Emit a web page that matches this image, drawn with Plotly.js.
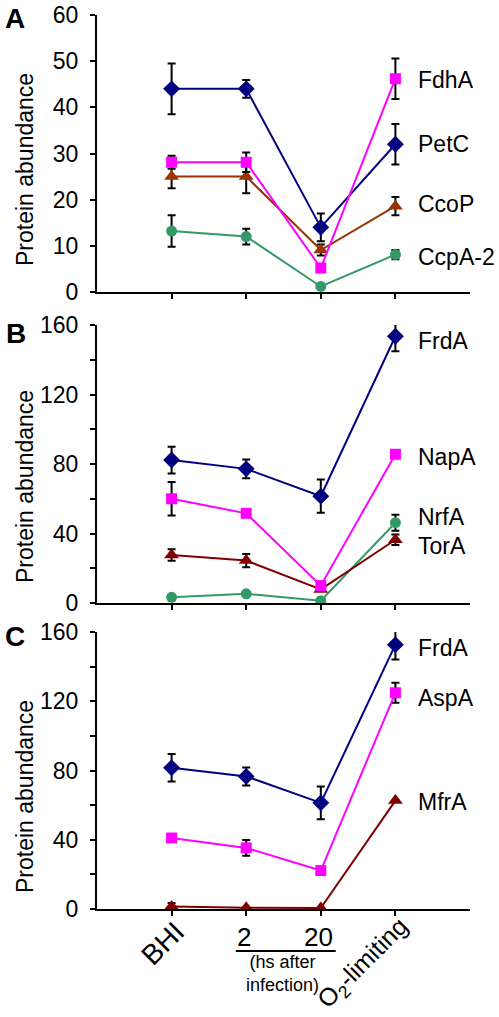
<!DOCTYPE html>
<html>
<head>
<meta charset="utf-8">
<script src="https://cdn.plot.ly/plotly-3.0.1.min.js"></script>
<style>html,body{margin:0;padding:0;background:#fff;}#chart{width:499px;height:1017px;}</style>
</head>
<body>
<div id="chart"></div>
<script>
// ---- categories / tick labels ----
const categories = ['BHI', '2', '20', 'O<sub>2</sub>-limiting'];
const xIdx = [0, 1, 2, 3];
const ticksA = [0, 10, 20, 30, 40, 50, 60];
const ticksBC = [0, 20, 40, 60, 80, 100, 120, 140, 160];
const tickTextBC = ['0', '', '40', '', '80', '', '120', '', '160'];
const subNote = '(hs after<br>infection)';

// ---- panel A ----
const A_PetC = [44, 44, 14, 32];
const A_PetC_err = [5.5, 1.9, 3, 4.4];
const A_FdhA = [28.1, 28.1, 5.2, 46.2];
const A_FdhA_err = [1.4, 2.1, 0, 4.4];
const A_CcoP = [25, 25, 9.1, 18.6];
const A_CcoP_err = [2.5, 3.6, 1.2, 2];
const A_CcpA2 = [13.2, 12, 1.2, 8.1];
const A_CcpA2_err = [3.4, 1.7, 0, 1];

// ---- panel B ----
const B_FrdA = [82.3, 77.2, 61.5, 153.5];
const B_FrdA_err = [7.7, 5.4, 9.6, 8.6];
const B_NapA = [60, 51.6, 10, 85.6];
const B_NapA_err = [9.6, 1, 0, 1];
const B_TorA = [27.6, 24.4, 7.8, 36.4];
const B_TorA_err = [3.3, 3.8, 0, 3];
const B_NrfA = [3.3, 5.3, 1.3, 46.2];
const B_NrfA_err = [0, 0, 0, 4.6];

// ---- panel C ----
const C_FrdA = [81.6, 76.6, 61.3, 152.7];
const C_FrdA_err = [8, 5.2, 9.5, 8.6];
const C_AspA = [41, 35.3, 22.2, 124.9];
const C_AspA_err = [1, 4.5, 0, 5.8];
const C_MfrA = [1.5, 0.7, 0.6, 62.6];
const C_MfrA_err = [2, 0, 0, 0];

// ---- colours ----
const NAVY = '#000080', MAG = '#FF00FF', BROWN = '#993300', DRED = '#800000', GREEN = '#339966';

function tr(y, err, color, symbol, size, xa, ya) {
  return {
    x: xIdx, y: y, xaxis: xa, yaxis: ya, type: 'scatter', mode: 'lines+markers',
    line: {color: color, width: 2},
    marker: {color: color, symbol: symbol, size: size},
    error_y: {type: 'data', array: err, visible: true, color: '#000', thickness: 2, width: 4},
    showlegend: false, hoverinfo: 'skip'
  };
}

const data = [
  tr(A_PetC, A_PetC_err, NAVY, 'diamond', 13, 'x', 'y'),
  tr(A_CcoP, A_CcoP_err, BROWN, 'triangle-up', 13, 'x', 'y'),
  tr(A_FdhA, A_FdhA_err, MAG, 'square', 11, 'x', 'y'),
  tr(A_CcpA2, A_CcpA2_err, GREEN, 'circle', 11, 'x', 'y'),

  tr(B_FrdA, B_FrdA_err, NAVY, 'diamond', 13, 'x2', 'y2'),
  tr(B_NrfA, B_NrfA_err, GREEN, 'circle', 11, 'x2', 'y2'),
  tr(B_TorA, B_TorA_err, DRED, 'triangle-up', 13, 'x2', 'y2'),
  tr(B_NapA, B_NapA_err, MAG, 'square', 11, 'x2', 'y2'),

  tr(C_FrdA, C_FrdA_err, NAVY, 'diamond', 13, 'x3', 'y3'),
  tr(C_AspA, C_AspA_err, MAG, 'square', 11, 'x3', 'y3'),
  tr(C_MfrA, C_MfrA_err, DRED, 'triangle-up', 13, 'x3', 'y3')
];

const FONT = 'Liberation Sans, Arial, sans-serif';
const W = 499, H = 1017;
const xDom = [97 / W, 470 / W];
function yDom(topPx, botPx) { return [1 - botPx / H, 1 - topPx / H]; }

function xAxis(anchor) {
  return {
    domain: xDom, range: [-1, 4], anchor: anchor, showgrid: false, zeroline: false,
    showline: true, linecolor: '#000', linewidth: 2,
    ticks: 'outside', ticklen: 5, tickwidth: 2, tickcolor: '#000',
    tickmode: 'array', tickvals: xIdx, showticklabels: false, fixedrange: true
  };
}
function yAxis(anchor, dom, range, vals, text) {
  return {
    domain: dom, range: range, anchor: anchor, showgrid: false, zeroline: false,
    showline: true, linecolor: '#000', linewidth: 2,
    ticks: 'outside', ticklen: 5, tickwidth: 2, tickcolor: '#000',
    tickmode: 'array', tickvals: vals, ticktext: text, ticklabelstandoff: 7,
    tickfont: {family: FONT, size: 23, color: '#000'}, fixedrange: true
  };
}

function lab(text, xa, ya, y) {
  return {text: text, xref: xa, yref: ya, x: 3.28, y: y, xanchor: 'left', yanchor: 'middle',
    showarrow: false, font: {family: FONT, size: 23, color: '#000'}};
}
function ytitle(yPx) {
  return {text: 'Protein abundance', xref: 'paper', yref: 'paper', x: 25 / W, y: 1 - yPx / H,
    xanchor: 'center', yanchor: 'middle', textangle: -90, showarrow: false,
    font: {family: FONT, size: 23, color: '#000'}};
}
function letter(t, xPx, yPx) {
  return {text: '<b>' + t + '</b>', xref: 'paper', yref: 'paper', x: xPx / W, y: 1 - yPx / H,
    xanchor: 'center', yanchor: 'middle', showarrow: false,
    font: {family: FONT, size: 28, color: '#000'}};
}
function xlab(i, xOff, yPx, angle, size) {
  return {text: categories[i], xref: 'x3', yref: 'paper', x: xIdx[i] + xOff, y: 1 - yPx / H,
    xanchor: 'center', yanchor: 'middle', textangle: angle, showarrow: false,
    font: {family: FONT, size: size, color: '#000'}};
}

const annotations = [
  letter('A', 15, 18), letter('B', 16, 333), letter('C', 15, 636),
  ytitle(170), ytitle(487), ytitle(797),
  lab('FdhA', 'x', 'y', 46), lab('PetC', 'x', 'y', 32), lab('CcoP', 'x', 'y', 19), lab('CcpA-2', 'x', 'y', 7.6),
  lab('FrdA', 'x2', 'y2', 151), lab('NapA', 'x2', 'y2', 84), lab('NrfA', 'x2', 'y2', 49.5), lab('TorA', 'x2', 'y2', 33),
  lab('FrdA', 'x3', 'y3', 151), lab('AspA', 'x3', 'y3', 122), lab('MfrA', 'x3', 'y3', 61.6),
  xlab(0, -0.12, 943, -45, 28),
  xlab(3, -0.43, 964, -45, 25),
  xlab(1, -0.03, 937, 0, 26),
  xlab(2, -0.03, 937, 0, 26),
  {text: subNote, xref: 'x3', yref: 'paper', x: 1.49, y: 1 - 973 / H, xanchor: 'center', yanchor: 'middle',
    showarrow: false, font: {family: FONT, size: 18, color: '#000'}}
];

const layout = {
  width: W, height: H, margin: {l: 0, r: 0, t: 0, b: 0},
  paper_bgcolor: '#fff', plot_bgcolor: '#fff', showlegend: false,
  xaxis: xAxis('y'), yaxis: yAxis('x', yDom(15, 292), [0, 60], ticksA, ticksA.map(String)),
  xaxis2: xAxis('y2'), yaxis2: yAxis('x2', yDom(325, 603), [0, 160], ticksBC, tickTextBC),
  xaxis3: xAxis('y3'), yaxis3: yAxis('x3', yDom(632, 909), [0, 160], ticksBC, tickTextBC),
  annotations: annotations,
  shapes: [{type: 'line', xref: 'x3', yref: 'paper', x0: 0.86, x1: 2.2, y0: 1 - 951 / H, y1: 1 - 951 / H,
    line: {color: '#000', width: 2}}]
};

Plotly.newPlot('chart', data, layout, {staticPlot: true, displayModeBar: false});
</script>
</body>
</html>
